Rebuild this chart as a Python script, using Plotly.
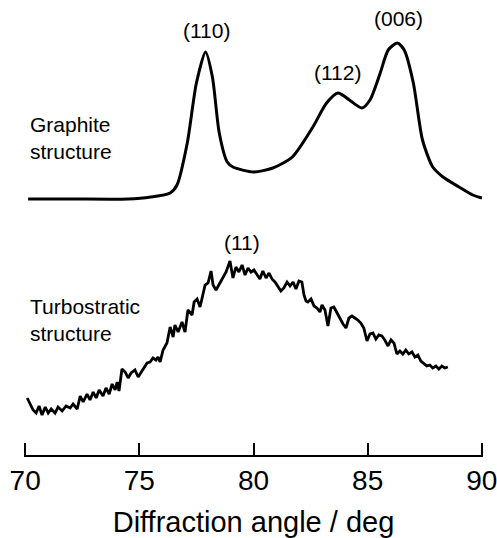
import plotly.graph_objects as go

# ---- Data ----
# Graphite structure: diffraction angle (deg) and intensity (arb. units)
graphite_angle = [70.13, 72.0, 74.5, 75.5, 76.35, 76.65, 77.1, 77.5, 77.9, 78.2, 78.5,
                  78.85, 79.1, 80.0, 80.85, 81.7, 82.6, 83.2, 83.7, 84.2, 84.75,
                  85.1, 85.55, 85.9, 86.3, 86.6, 87.0, 87.4, 87.85, 88.3, 89.0, 89.6, 90.0]
graphite_intensity = [0, 0, 0, 2, 6, 14, 56, 116, 147, 122, 66,
                      37, 32, 27, 31, 42, 72, 96, 106, 99, 91,
                      99, 126, 149, 156, 149, 116, 59, 32, 22, 12, 4, 1]

# Turbostratic structure: noisy broad (11) band
turbo_angle = [70.09, 70.22, 70.35, 70.48, 70.61, 70.74, 70.88, 71.01, 71.14, 71.31,
               71.44, 71.62, 71.79, 71.97, 72.10, 72.28, 72.41, 72.54, 72.71, 72.84,
               72.98, 73.11, 73.24, 73.41, 73.54, 73.68, 73.81, 73.94, 74.03, 74.11,
               74.24, 74.38, 74.51, 74.64, 74.81, 74.95, 75.08, 75.21, 75.34, 75.47,
               75.60, 75.73, 75.82, 75.91, 76.04, 76.21, 76.35, 76.48, 76.56, 76.70,
               76.87, 77.00, 77.13, 77.31, 77.40, 77.53, 77.66, 77.79, 77.88, 78.01,
               78.14, 78.23, 78.36, 78.53, 78.66, 78.80, 78.97, 79.10, 79.23, 79.36,
               79.50, 79.63, 79.76, 79.89, 80.02, 80.15, 80.28, 80.41, 80.55, 80.68,
               80.81, 80.94, 81.07, 81.20, 81.33, 81.47, 81.60, 81.73, 81.86, 81.99,
               82.12, 82.21, 82.30, 82.38, 82.52, 82.65, 82.78, 82.91, 83.00, 83.13,
               83.26, 83.39, 83.52, 83.65, 83.78, 83.92, 84.05, 84.18, 84.31, 84.44,
               84.57, 84.70, 84.83, 84.97, 85.10, 85.23, 85.36, 85.49, 85.62, 85.75,
               85.89, 86.02, 86.15, 86.28, 86.41, 86.54, 86.67, 86.80, 86.94, 87.07,
               87.20, 87.33, 87.46, 87.59, 87.72, 87.85, 87.99, 88.12, 88.25, 88.38,
               88.51]
turbo_intensity = [22, 16, 10, 7, 14, 5, 13, 7, 11, 7,
                   13, 9, 14, 12, 16, 11, 24, 18, 26, 20,
                   28, 22, 30, 24, 32, 26, 36, 30, 38, 29,
                   51, 48, 42, 47, 50, 43, 48, 53, 57, 58,
                   62, 60, 63, 58, 70, 77, 93, 83, 95, 88,
                   98, 88, 110, 105, 118, 121, 113, 126, 135, 137,
                   149, 135, 130, 137, 142, 148, 159, 142, 153, 148,
                   155, 145, 152, 148, 150, 146, 141, 149, 142, 147,
                   141, 138, 133, 129, 132, 138, 134, 138, 131, 139,
                   138, 125, 119, 118, 121, 114, 112, 108, 115, 110,
                   94, 112, 113, 108, 102, 96, 92, 102, 104, 102,
                   100, 97, 92, 79, 86, 87, 81, 85, 84, 80,
                   74, 80, 77, 66, 69, 66, 70, 66, 68, 63,
                   65, 59, 56, 54, 55, 52, 54, 51, 54, 52,
                   53]

x_ticks = [70, 75, 80, 85, 90]
graphite_offset = 221

labels = ["(110)", "(112)", "(006)", "(11)"]
label_x = [77.92, 83.70, 86.35, 79.50]
label_y = [390, 348, 402, 178]

# ---- Figure ----
fig = go.Figure()
fig.add_trace(go.Scatter(
    x=graphite_angle,
    y=[v + graphite_offset for v in graphite_intensity],
    mode="lines",
    line=dict(color="black", width=3, shape="spline", smoothing=0.7),
    hoverinfo="skip",
))
fig.add_trace(go.Scatter(
    x=turbo_angle,
    y=turbo_intensity,
    mode="lines",
    line=dict(color="black", width=2.8),
    hoverinfo="skip",
))

font_family = "Liberation Sans, Arial, Helvetica, sans-serif"
for t, xx, yy in zip(labels, label_x, label_y):
    fig.add_annotation(x=xx, y=yy, text=t, showarrow=False,
                       font=dict(size=21, color="black", family=font_family),
                       xanchor="center", yanchor="middle")

fig.add_annotation(x=70.13, y=282, text="Graphite<br>structure", showarrow=False,
                   align="left", xanchor="left", yanchor="middle",
                   font=dict(size=21, color="black", family=font_family))
fig.add_annotation(x=70.13, y=100, text="Turbostratic<br>structure", showarrow=False,
                   align="left", xanchor="left", yanchor="middle",
                   font=dict(size=21, color="black", family=font_family))

fig.update_layout(
    width=497, height=538,
    margin=dict(l=24, r=14, t=0, b=83),
    paper_bgcolor="white", plot_bgcolor="white",
    showlegend=False,
    font=dict(family=font_family, color="black"),
    xaxis=dict(
        range=[69.95, 90.05],
        tickvals=x_ticks,
        ticktext=[str(v) for v in x_ticks],
        ticks="inside", ticklen=12, tickwidth=1.5, tickcolor="black",
        showline=True, linecolor="black", linewidth=1.5,
        showgrid=False, zeroline=False,
        tickfont=dict(size=28, color="black", family=font_family),
        ticklabeloverflow="allow",
        title=dict(text="Diffraction angle / deg",
                   font=dict(size=29, color="black", family=font_family),
                   standoff=16),
        automargin=False,
        fixedrange=True,
    ),
    yaxis=dict(
        range=[-35, 420],
        visible=False,
        fixedrange=True,
    ),
)

fig.write_html("out.html")
